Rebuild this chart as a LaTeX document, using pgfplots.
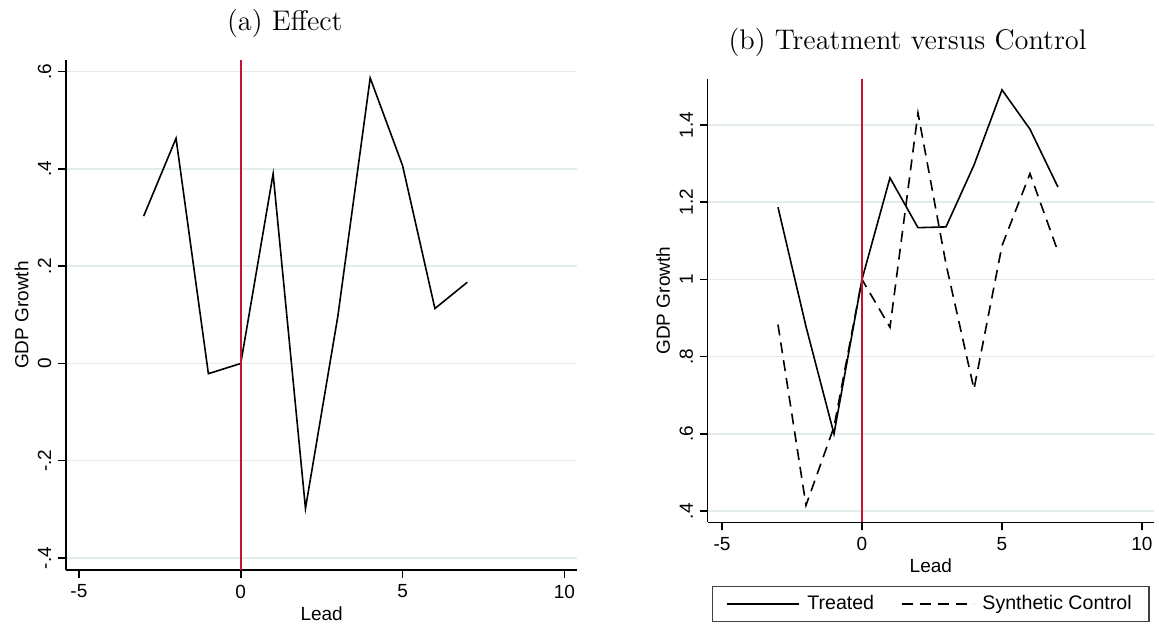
\documentclass[border=0pt]{standalone}
\usepackage{fontspec}
\usepackage{pgfplots}
\pgfplotsset{compat=1.18}
\newfontfamily\arial{Liberation Sans}
\definecolor{gridc}{RGB}{226,236,239}
\definecolor{xred}{RGB}{196,18,48}
\newcommand\sfs{\arial\fontsize{9.5}{11}\selectfont}
\newcommand\lfs{\arial\fontsize{9.8}{11}\selectfont}
\newcommand\tfs{\fontsize{14.2}{17}\selectfont}

\pgfplotsset{
  stata/.style={
    scale only axis, anchor=south west,
    axis x line=bottom, axis y line=left,
    axis line style={-, line width=0.75pt, black},
    tick align=outside, major tick length=3.85pt,
    every tick/.style={black, line width=0.75pt},
    ymajorgrids, grid style={gridc, line width=0.75pt},
    xtick={-5,0,5,10}, xticklabels={-5,0,5,10},
    tick label style={font=\sfs},
    yticklabel style={rotate=90, anchor=south},
    xticklabel style={anchor=north},
    xlabel={Lead}, ylabel={GDP Growth},
    clip=false,
  }
}

\begin{document}
\begin{tikzpicture}
\useasboundingbox (0,0) rectangle (579.5pt,314pt);

% (a) Effect
\begin{axis}[stata,
  at={(33pt,29pt)}, width=255.65pt, height=255pt,
  xmin=-5.4, xmax=10.4, ymin=-0.4247, ymax=0.624,
  ytick={-0.4,-0.2,0,0.2,0.4,0.6}, yticklabels={-.4,-.2,0,.2,.4,.6},
  every axis y label/.style={at={(axis description cs:-0.087,0.5)}, rotate=90, anchor=center, font=\sfs},
  every axis x label/.style={at={(axis description cs:0.5,-0.0863)}, anchor=center, font=\sfs},
  title={(a) Effect},
  every axis title/.style={at={(axis description cs:0.428,1.0725)}, anchor=center, font=\tfs},
]
\addplot[black, line width=0.8pt] coordinates {
(-3,0.303) (-2,0.463) (-1,-0.021) (0,0.000) (1,0.390) (2,-0.298)
(3,0.097) (4,0.587) (5,0.407) (6,0.113) (7,0.167)};
\addplot[xred, line width=1pt, forget plot] coordinates {(0,-0.4247) (0,0.624)};
\end{axis}

% (b) Treatment versus Control
\begin{axis}[stata,
  at={(353.85pt,52.85pt)}, width=223.15pt, height=221.65pt,
  xmin=-5.51, xmax=10.43, ymin=0.371, ymax=1.519,
  ytick={0.4,0.6,0.8,1,1.2,1.4}, yticklabels={.4,.6,.8,1,1.2,1.4},
  every axis y label/.style={at={(axis description cs:-0.1002,0.5)}, rotate=90, anchor=center, font=\sfs},
  every axis x label/.style={at={(axis description cs:0.5,-0.0986)}, anchor=center, font=\sfs},
  title={(b) Treatment versus Control},
  every axis title/.style={at={(axis description cs:0.4477,1.0835)}, anchor=center, font=\tfs},
  legend columns=2,
  legend image code/.code={\draw[#1] (0pt,0pt) -- (36pt,0pt);},
  legend style={at={(axis description cs:0.5,-0.1843)}, anchor=center,
    draw=black!75, line width=0.6pt, font=\lfs,
    inner xsep=6.6pt, inner ysep=2.6pt,
    /tikz/every odd column/.append style={column sep=1.85pt},
    /tikz/every even column/.append style={column sep=11.5pt}},
]
\addplot[black, line width=0.8pt] coordinates {
(-3,1.187) (-2,0.878) (-1,0.600) (0,1.000) (1,1.263) (2,1.134)
(3,1.136) (4,1.296) (5,1.491) (6,1.389) (7,1.239)};
\addlegendentry{Treated}
\addplot[black, line width=0.8pt, dash pattern=on 5.5pt off 3.5pt] coordinates {
(-3,0.883) (-2,0.415) (-1,0.618) (0,1.000) (1,0.876) (2,1.431)
(3,1.040) (4,0.716) (5,1.087) (6,1.274) (7,1.072)};
\addlegendentry{Synthetic Control}
\addplot[xred, line width=1pt, forget plot] coordinates {(0,0.371) (0,1.519)};
\end{axis}
\end{tikzpicture}
\end{document}
